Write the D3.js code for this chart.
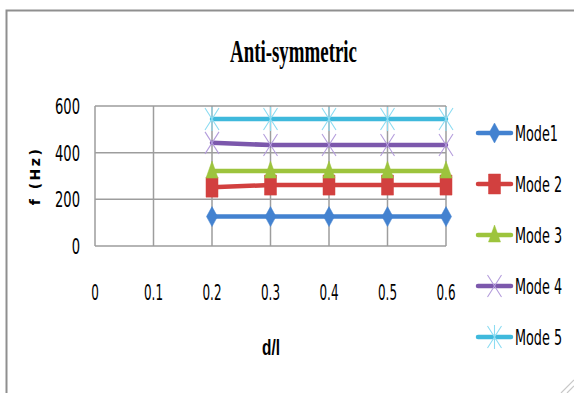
<!DOCTYPE html>
<html>
<head>
	<style>
		body {
		    margin: 0;
		    background-color: #ffffff;
		}
		svg {
			display: block;
		}
		.tick-label, .legend-label {
			font-family: "Liberation Sans Narrow", "DejaVu Sans Condensed", "Liberation Sans", sans-serif;
			fill: #000;
		}
	</style>
	<script src="https://d3js.org/d3.v7.min.js"></script>
</head>
<body>

	<div id="chart"></div>

	<script>
		// data
		var dl = [0.2, 0.3, 0.4, 0.5, 0.6];
		var mode1 = [126, 126, 126, 126, 126];
		var mode2 = [252, 261, 261, 261, 261];
		var mode3 = [321, 321, 321, 321, 321];
		var mode4 = [442, 433, 433, 433, 433];
		var mode5 = [544, 544, 544, 544, 544];
		var seriesNames = ["Mode1", "Mode 2", "Mode 3", "Mode 4", "Mode 5"];
		var xTicks = [0, 0.1, 0.2, 0.3, 0.4, 0.5, 0.6];
		var yTicks = [0, 200, 400, 600];

		var series = [
			{name: seriesNames[0], values: mode1, color: "#4382d0", marker: "diamond", mcolor: "#4382d0"},
			{name: seriesNames[1], values: mode2, color: "#d2403f", marker: "square", mcolor: "#d2403f"},
			{name: seriesNames[2], values: mode3, color: "#9dc43d", marker: "triangle", mcolor: "#9dc43d"},
			{name: seriesNames[3], values: mode4, color: "#7c58ac", marker: "x", mcolor: "#b49ddc"},
			{name: seriesNames[4], values: mode5, color: "#3fb9dc", marker: "star", mcolor: "#8cdcf2"}
		];

		var W = 574, H = 393;
		var svg = d3.select("#chart").append("svg")
			.attr("width", W)
			.attr("height", H);

		// chart frame (right and bottom are cut off in the picture)
		svg.append("path")
			.attr("d", "M6.5," + H + "V10.5H" + W)
			.attr("fill", "none")
			.attr("stroke", "#8f8f8f")
			.attr("stroke-width", 2);
		svg.append("path")
			.attr("d", "M561,393L574,380M567,393L574,386")
			.attr("stroke", "#c8c8c8")
			.attr("stroke-width", 1.2);

		var x = d3.scaleLinear().domain([0, 0.6]).range([95, 446]);
		var y = d3.scaleLinear().domain([0, 600]).range([246, 106]);

		// the original text is tall and narrow: scale it in x so a sample string gets a given width.
		// texts carry their anchor point in data-x / data-y, the scale goes in the transform
		function squeeze(sel, sample, target) {
			var probe = svg.append("text")
				.attr("class", sel.attr("class"))
				.style("font-size", sel.style("font-size"))
				.style("font-family", sel.style("font-family"))
				.style("font-weight", sel.style("font-weight"))
				.text(sample);
			var k = target / probe.node().getComputedTextLength();
			probe.remove();
			sel.each(function() {
				var t = d3.select(this);
				t.attr("transform", "translate(" + t.attr("data-x") + "," + t.attr("data-y") + ") scale(" + k + ",1)");
			});
		}

		// title
		var title = svg.append("text")
			.attr("data-x", 293.5)
			.attr("data-y", 62)
			.attr("text-anchor", "middle")
			.style("font-family", "'Liberation Serif', 'Times New Roman', serif")
			.style("font-weight", "bold")
			.style("font-size", "31px")
			.text("Anti-symmetric");
		squeeze(title, "Anti-symmetric", 127);

		// grid
		var grid = svg.append("g").attr("stroke", "#9d9d9d").attr("stroke-width", 1.5);
		grid.selectAll("line.v").data(xTicks).enter().append("line")
			.attr("x1", function(d) { return x(d); })
			.attr("x2", function(d) { return x(d); })
			.attr("y1", y(0))
			.attr("y2", y(600));
		grid.selectAll("line.h").data(yTicks).enter().append("line")
			.attr("x1", x(0))
			.attr("x2", x(0.6))
			.attr("y1", function(d) { return y(d); })
			.attr("y2", function(d) { return y(d); });

		// y axis labels
		var yl = svg.append("g").selectAll("text").data(yTicks).enter().append("text")
			.attr("class", "tick-label")
			.attr("data-x", 80)
			.attr("data-y", function(d) { return y(d) + 8; })
			.attr("text-anchor", "end")
			.style("font-size", "22px")
			.text(function(d) { return d; });
		squeeze(yl, "600", 25);

		// x axis labels
		var xl = svg.append("g").selectAll("text").data(xTicks).enter().append("text")
			.attr("class", "tick-label")
			.attr("data-x", function(d) { return x(d); })
			.attr("data-y", 300)
			.attr("text-anchor", "middle")
			.style("font-size", "22px")
			.text(function(d) { return d3.format("")(d); });
		squeeze(xl, "0.1", 19);

		// axis titles
		var xTitle = svg.append("text")
			.attr("data-x", 271)
			.attr("data-y", 355)
			.attr("text-anchor", "middle")
			.style("font-family", "'Liberation Sans', sans-serif")
			.style("font-weight", "bold")
			.style("font-size", "22px")
			.text("d/l");
		squeeze(xTitle, "d/l", 18);

		svg.append("text")
			.attr("transform", "translate(40,176) rotate(-90)")
			.attr("text-anchor", "middle")
			.style("font-family", "'DejaVu Sans', sans-serif")
			.style("font-weight", "bold")
			.style("font-size", "14px")
			.style("letter-spacing", "2.5px")
			.text("f (Hz)");

		// marker shapes
		function markerPath(type) {
			if (type == "diamond") return "M0,-10L5.5,0L0,10L-5.5,0Z";
			if (type == "square") return "M-6,-10H6V10H-6Z";
			if (type == "triangle") return "M0,-10L6,7H-6Z";
			if (type == "x") return "M-7,-11L7,11M-7,11L7,-11";
			return "M-7,-11L7,11M-7,11L7,-11M0,-12V12";
		}
		function drawMarker(g, s) {
			var filled = s.marker == "diamond" || s.marker == "square" || s.marker == "triangle";
			g.append("path")
				.attr("d", markerPath(s.marker))
				.attr("fill", filled ? s.mcolor : "none")
				.attr("stroke", s.mcolor)
				.attr("stroke-width", filled ? 0.5 : 1.1);
		}

		var line = d3.line()
			.x(function(d, i) { return x(dl[i]); })
			.y(function(d) { return y(d); });

		series.forEach(function(s) {
			var g = svg.append("g");
			g.append("path")
				.attr("d", line(s.values))
				.attr("fill", "none")
				.attr("stroke", s.color)
				.attr("stroke-width", 4.5)
				.attr("stroke-linecap", "round");
			s.values.forEach(function(v, i) {
				var m = g.append("g").attr("transform", "translate(" + x(dl[i]) + "," + y(v) + ")");
				drawMarker(m, s);
			});
		});

		// legend
		var legY = d3.scalePoint().domain(seriesNames).range([133, 337]);
		var legend = svg.append("g");
		series.forEach(function(s) {
			var g = legend.append("g").attr("transform", "translate(0," + legY(s.name) + ")");
			g.append("line")
				.attr("x1", 478).attr("x2", 511)
				.attr("y1", 0).attr("y2", 0)
				.attr("stroke", s.color)
				.attr("stroke-width", 4.5)
				.attr("stroke-linecap", "round");
			var m = g.append("g").attr("transform", "translate(494.5,0)");
			drawMarker(m, s);
			g.append("text")
				.attr("class", "legend-label")
				.attr("data-x", 515)
				.attr("data-y", 8)
				.style("font-size", "22px")
				.text(s.name);
		});
		squeeze(legend.selectAll("text"), "Mode1", 43);
	</script>

</body>
</html>
